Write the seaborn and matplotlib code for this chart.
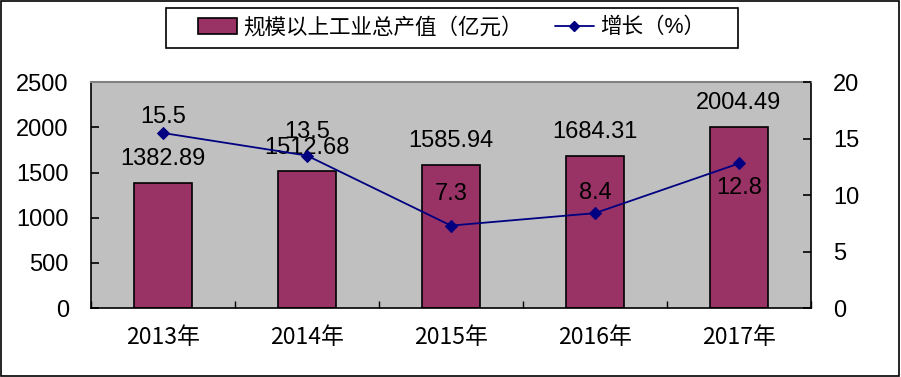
import numpy as np
import pandas as pd
import matplotlib
matplotlib.use('Agg')
import matplotlib.pyplot as plt
import seaborn as sns
from matplotlib.patches import Rectangle
from matplotlib.lines import Line2D

# data
years = ['2013年', '2014年', '2015年', '2016年', '2017年']
output_value = [1382.89, 1512.68, 1585.94, 1684.31, 2004.49]
growth = [15.5, 13.5, 7.3, 8.4, 12.8]
bar_name = '规模以上工业总产值（亿元）'
line_name = '增长（%）'

sns.set_style('white')
plt.rcParams['font.family'] = ['Liberation Sans', 'Noto Sans CJK SC', 'DejaVu Sans']
plt.rcParams['text.color'] = 'black'
plt.rcParams['xtick.color'] = 'black'
plt.rcParams['ytick.color'] = 'black'

df = pd.DataFrame({'year': years, 'value': output_value, 'growth': growth})

fig = plt.figure(figsize=(9.01, 3.77), dpi=100)
ax = fig.add_axes([0.101, 0.183, 0.799, 0.599])
ax.set_facecolor('#C0C0C0')

sns.barplot(data=df, x='year', y='value', color='#993366', width=0.4,
            edgecolor='black', linewidth=1.2, saturation=1, ax=ax)
ax.set_ylim(0, 2500)
ax.set_yticks(range(0, 2501, 500))
ax.set_xlim(-0.5, len(years) - 0.5)
ax.set_xlabel('')
ax.set_ylabel('')
ax.tick_params(axis='y', direction='in', length=6, width=1.2,
               labelsize=17, left=True, pad=16)
ax.tick_params(axis='x', length=0, pad=13)
for lbl in ax.get_xticklabels():
    lbl.set_fontfamily(['Liberation Sans Narrow', 'Noto Sans CJK SC', 'DejaVu Sans'])
    lbl.set_fontsize(16.5)
# category boundary ticks drawn inside at the bottom
ax.set_xticks(np.arange(-0.5, len(years), 1), minor=True)
ax.tick_params(axis='x', which='minor', direction='in', length=5, width=1, bottom=True)

for side in ['left', 'bottom', 'right']:
    ax.spines[side].set_color('black')
    ax.spines[side].set_linewidth(1.2)
ax.spines['top'].set_color('#808080')
ax.spines['top'].set_linewidth(1.5)

for i, v in enumerate(output_value):
    ax.annotate(f'{v:.2f}', (i, v), xytext=(0, 17), textcoords='offset points',
                ha='center', va='center', fontsize=17)

ax2 = ax.twinx()
sns.lineplot(x=np.arange(len(years)), y=growth, color='#000080', marker='D',
             markersize=6, linewidth=1.3, markeredgecolor='#000080', ax=ax2)
ax2.set_ylim(0, 20)
ax2.set_yticks(range(0, 21, 5))
ax2.tick_params(axis='y', direction='in', length=6, width=1.2,
                labelsize=17, right=True, pad=16)
for s in ax2.spines.values():
    s.set_visible(False)

label_offsets = [11.5, 17, 23, 14.5, -18]
for i, (g, off) in enumerate(zip(growth, label_offsets)):
    ax2.annotate(f'{g}', (i, g), xytext=(0, off), textcoords='offset points',
                 ha='center', va='center', fontsize=17)

handles = [Rectangle((0, 0), 1, 1, facecolor='#993366', edgecolor='black', linewidth=1.2),
           Line2D([], [], color='#000080', marker='D', markersize=5, linewidth=1.3)]
leg = fig.legend(handles, [bar_name, line_name], loc='center',
                 bbox_to_anchor=(0.501, 0.926), ncol=2, frameon=False,
                 fontsize=15.5, handlelength=1.8, handleheight=0.75,
                 columnspacing=1.5, handletextpad=0.3)

# legend box and outer chart border
fig.patches.append(Rectangle((166 / 901, 1 - 48 / 377), 572 / 901, 40 / 377,
                             transform=fig.transFigure, fill=False,
                             edgecolor='black', linewidth=1.2))
fig.patches.append(Rectangle((0.001, 0.002), 0.997, 0.995, transform=fig.transFigure,
                             fill=False, edgecolor='black', linewidth=1.2))

fig.savefig('out.png', dpi=100)
